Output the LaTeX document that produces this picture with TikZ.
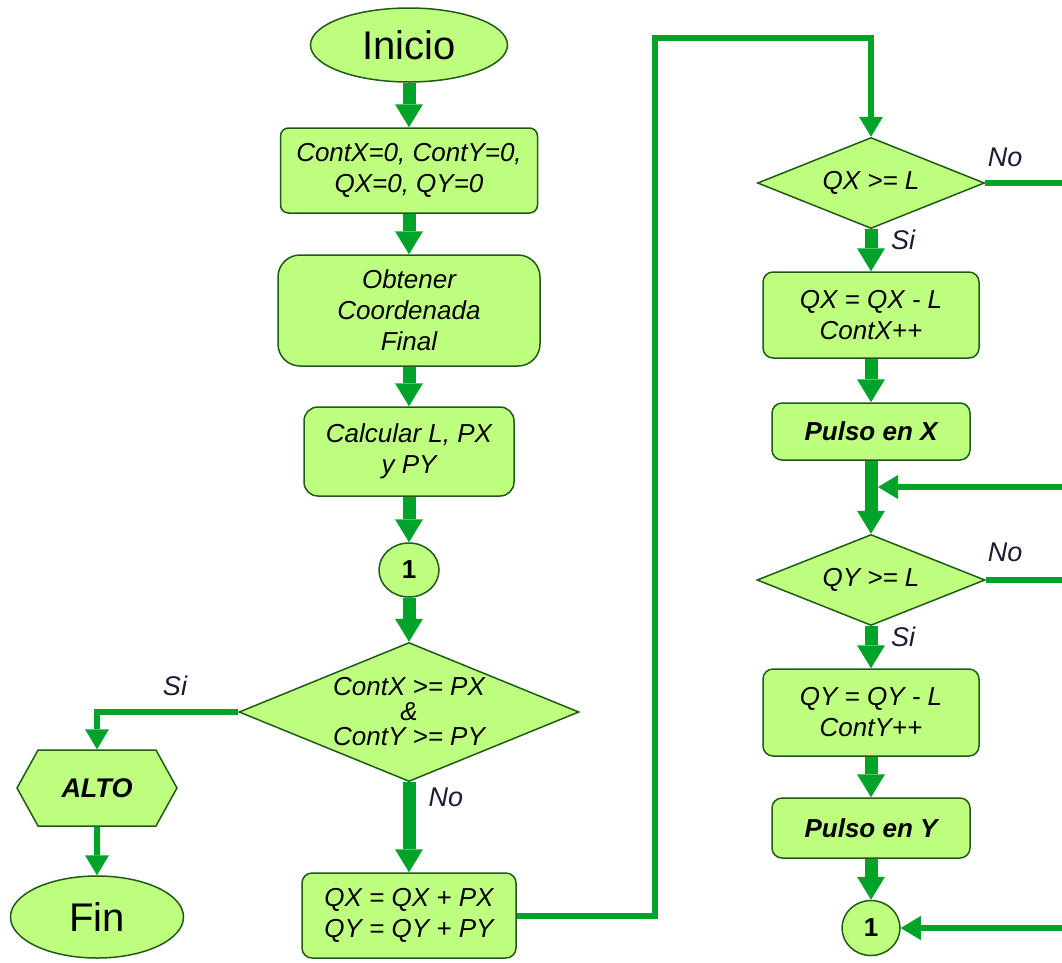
\documentclass[tikz,border=0pt]{standalone}
\usepackage{fontspec}
\setmainfont{Liberation Sans}
\usetikzlibrary{arrows.meta,shapes.geometric,shapes.symbols}
\definecolor{flowfill}{HTML}{BFFF80}
\definecolor{flowedge}{HTML}{1F5A17}
\definecolor{flowline}{HTML}{00A32A}
\definecolor{labelink}{HTML}{1A1A33}
\begin{document}
\begin{tikzpicture}[x=1pt,y=-1pt,
  base/.style={draw=flowedge, fill=flowfill, line width=1.5pt, inner sep=0pt,
    align=center, font=\fontsize{26}{31}\selectfont\itshape},
  terminal/.style={base, ellipse, font=\fontsize{40}{44}\selectfont},
  procbox/.style={base, rectangle, rounded corners=#1},
  boldbox/.style={procbox=#1, font=\fontsize{26}{31}\selectfont\bfseries\itshape},
  decision/.style={base, diamond, shape aspect=#1},
  connector/.style={base, ellipse, font=\fontsize{26}{31}\selectfont\bfseries},
  haltbox/.style={base, signal, signal to=west and east, signal pointer angle=122,
    font=\fontsize{27}{31}\selectfont\bfseries\itshape},
  thickflow/.style={draw=flowline, line width=13pt,
    -{Triangle[width=28pt,length=23pt,line width=0pt]}},
  thinflow/.style={draw=flowline, line width=6pt,
    -{Triangle[width=24pt,length=20pt,line width=0pt]}},
  thinline/.style={draw=flowline, line width=6pt},
  branch/.style={font=\fontsize{27}{31}\selectfont\itshape, text=labelink, inner sep=0pt}
]
\useasboundingbox (0,0) rectangle (1062,962);

% left column
\node[terminal, minimum width=197pt, minimum height=74pt] (inicio) at (409,45) {Inicio};
\node[procbox=8pt, minimum width=257pt, minimum height=85pt] (b1) at (409,170.5)
  {ContX=0, ContY=0,\\QX=0, QY=0};
\node[procbox=22pt, minimum width=262pt, minimum height=111pt] (b2) at (409,310.5)
  {Obtener\\Coordenada\\Final};
\node[procbox=14pt, minimum width=210pt, minimum height=89pt] (b3) at (409,451.5)
  {Calcular L, PX\\y PY};
\node[connector, minimum width=60pt, minimum height=54pt] (c1) at (409,570) {1};
\node[decision=2.45, minimum width=340pt, minimum height=139pt,
  font=\fontsize{26}{25}\selectfont\itshape] (dec) at (409,712)
  {ContX >= PX\\\&\\ContY >= PY};
\node[procbox=10pt, minimum width=214pt, minimum height=85pt] (b4) at (409,915.5)
  {QX = QX + PX\\QY = QY + PY};
\node[haltbox, minimum width=160pt, minimum height=76pt] (alto) at (97,788) {ALTO};
\node[terminal, minimum width=173pt, minimum height=82pt] (fin) at (97,917) {Fin};

% right column
\node[decision=2.5, minimum width=227pt, minimum height=91pt] (qx) at (871,183) {QX >= L};
\node[procbox=10pt, minimum width=216pt, minimum height=86pt] (bx) at (871,315)
  {QX = QX - L\\ContX++};
\node[boldbox=10pt, minimum width=198pt, minimum height=57pt] (px) at (871,431.5) {Pulso en X};
\node[decision=2.5, minimum width=228pt, minimum height=91pt] (qy) at (871,580) {QY >= L};
\node[procbox=10pt, minimum width=216pt, minimum height=87pt] (by) at (871,712.5)
  {QY = QY - L\\ContY++};
\node[boldbox=10pt, minimum width=198pt, minimum height=60pt] (py) at (871,828) {Pulso en Y};
\node[connector, minimum width=58pt, minimum height=55pt] (c2) at (871,928) {1};

% free ends at the right border
\coordinate (edgeR) at (1062,0);
\coordinate (loopTop) at (655,38);
\coordinate (jin) at (1062,487);
\coordinate (jtip) at (878,487);
\coordinate (c2in) at (1062,928);

% main sequence
\draw[thickflow] (inicio) -- (b1);
\draw[thickflow] (b1) -- (b2);
\draw[thickflow] (b2) -- (b3);
\draw[thickflow] (b3) -- (c1);
\draw[thickflow] (c1) -- (dec);
\draw[thickflow] (dec.south) -- (b4.north);
\draw[thinflow] (dec.west) -| (alto.north);
\draw[thinflow] (alto) -- (fin);
\draw[thinflow] (b4.east) -| (loopTop) -| (qx.north);

% right column sequence
\draw[thickflow] (qx.south) -- (bx.north);
\draw[thickflow] (bx) -- (px);
\draw[thickflow] (px.south) -- (qy.north);
\draw[thickflow] (qy.south) -- (by.north);
\draw[thickflow] (by) -- (py);
\draw[thickflow] (py) -- (c2);
\draw[thinline] (qx.east) -- (qx.east -| edgeR);
\draw[thinline] (qy.east) -- (qy.east -| edgeR);
\draw[thinflow] (jin) -- (jtip);
\draw[thinflow] (c2in) -- (c2.east);

% branch labels
\node[branch] at (175,686) {Si};
\node[branch] at (446,797) {No};
\node[branch] at (1005,157) {No};
\node[branch] at (903,240) {Si};
\node[branch] at (1005,552) {No};
\node[branch] at (903,637) {Si};
\end{tikzpicture}
\end{document}
